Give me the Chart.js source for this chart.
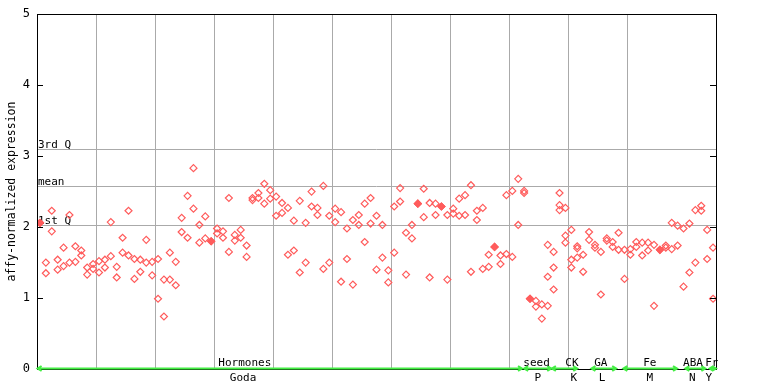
<!DOCTYPE html>
<html>
<head>
<meta charset="utf-8">
<script src="https://cdn.jsdelivr.net/npm/chart.js@4"></script>
<style>
  html, body { margin: 0; padding: 0; background: #fff; }
  #wrap { width: 768px; height: 384px; }
</style>
</head>
<body>
<div id="wrap"><canvas id="chart" width="768" height="384"></canvas></div>
<script>
// one entry per sample (x = sample index), replicate values
const rep1 = [
  2.06, 1.50, 2.23, 1.54, 1.71, 2.17, 1.73, 1.67, 1.43, 1.48,
  1.52, 1.54, 2.07, 1.44, 1.85, 2.23, 1.55, 1.54, 1.82, 1.51,
  1.55, 1.26, 1.64, 1.51, 2.13, 2.44, 2.83, 2.03, 2.15, 1.80,
  1.98, 1.94, 2.41, 1.89, 1.96, 1.74, 2.41, 2.48, 2.61, 2.52,
  2.43, 2.34, 2.27, 2.09, 2.37, 2.06, 2.50, 2.27, 2.58, 2.16,
  2.26, 2.21, 1.98, 2.10, 2.17, 2.33, 2.41, 2.16, 2.03, 1.39,
  2.29, 2.55, 1.92, 2.03, 2.33, 2.54, 2.34, 2.33, 2.29, 2.17,
  2.26, 2.40, 2.45, 2.59, 2.23, 2.27, 1.61, 1.72, 1.60, 2.45,
  2.51, 2.68, 2.51, 0.99, 0.96, 0.91, 1.75, 1.65, 2.48, 2.27,
  1.96, 1.73, 1.61, 1.93, 1.75, 1.65, 1.84, 1.79, 1.92, 1.68,
  1.69, 1.79, 1.78, 1.78, 1.75, 1.68, 1.74, 2.06, 2.02, 1.98,
  2.05, 2.24, 2.30, 1.96, 1.71
];
const rep2 = [
  2.06, 1.35, 1.94, 1.40, 1.45, 1.50, 1.51, 1.60, 1.33, 1.41,
  1.36, 1.43, 1.59, 1.29, 1.64, 1.60, 1.27, 1.37, 1.50, 1.32,
  0.99, 0.74, 1.26, 1.18, 1.93, 1.85, 2.26, 1.78, 1.84, 1.80,
  1.91, 1.85, 1.65, 1.81, 1.85, 1.58, 2.38, 2.41, 2.33, 2.40,
  2.16, 2.20, 1.61, 1.67, 1.36, 1.50, 2.29, 2.17, 1.41, 1.50,
  2.07, 1.23, 1.55, 1.19, 2.03, 1.79, 2.05, 1.40, 1.57, 1.22,
  1.64, 2.36, 1.33, 1.84, 2.33, 2.14, 1.29, 2.17, 2.29, 1.26,
  2.19, 2.16, 2.17, 1.37, 2.10, 1.41, 1.44, 1.72, 1.48, 1.62,
  1.58, 2.03, 2.48, 0.99, 0.88, 0.71, 1.30, 1.43, 2.31, 1.88,
  1.54, 1.70, 1.37, 1.82, 1.71, 1.05, 1.81, 1.72, 1.68, 1.27,
  1.61, 1.72, 1.60, 1.67, 0.89, 1.68, 1.71, 1.69, 1.74, 1.16,
  1.36, 1.50, 2.23, 1.55, 0.99
];
// a few samples carry a third replicate
const rep3Samples = [86, 87, 88, 89, 90, 91];
const rep3 = [0.89, 1.12, 2.24, 1.78, 1.43, 1.57];

const sampleCount = 115;
const yTicks = [0, 1, 2, 3, 4, 5];

const quartiles = [3.10, 2.58, 2.03];
const quartileLabels = ["3rd Q", "mean", "1st Q"];

const groupTop = ["Hormones", "seed", "CK", "GA", "Fe", "ABA", "Fr"];
const groupBottom = ["Goda", "P", "K", "L", "M", "N", "Y"];
const groupStart = [0.1, 82.5, 87.2, 93.9, 99.3, 109.8, 113.9];
const groupEnd = [82.15, 87.1, 91.5, 98.1, 108.4, 113.2, 115];
const groupTopAt = [35.2, 84.6, 90.6, 95.5, 103.8, 111.1, 114.3];
const groupBottomAt = [34.9, 84.8, 90.9, 95.7, 103.8, 111.0, 113.8];

const RED = "#ff5c5c";
const MONO = "'DejaVu Sans Mono', 'Liberation Mono', monospace";

function toPoints(values) {
  return values.map((v, i) => (v == null ? null : { x: i + 0.5, y: v })).filter(Boolean);
}

function pointFill(ctx) {
  if (!ctx.raw) return "rgba(0,0,0,0)";
  const i = ctx.raw.x - 0.5;
  return rep1[i] === rep2[i] ? RED : "rgba(0,0,0,0)";
}

const extras = {
  id: "extras",
  beforeDatasetsDraw(chart) {
    const { ctx, chartArea: a, scales } = chart;
    ctx.save();
    ctx.strokeStyle = "#aaaaaa";
    ctx.lineWidth = 1;
    ctx.font = "11px " + MONO;
    ctx.fillStyle = "#000";
    ctx.textAlign = "left";
    ctx.textBaseline = "alphabetic";
    quartiles.forEach((q, k) => {
      const y = Math.round(scales.y.getPixelForValue(q)) + 0.5;
      ctx.beginPath();
      ctx.moveTo(a.left, y);
      ctx.lineTo(a.right, y);
      ctx.stroke();
      ctx.fillText(quartileLabels[k], a.left + 1, y - 2);
    });
    ctx.restore();
  },
  afterDraw(chart) {
    const { ctx, chartArea: a, scales } = chart;
    const x = scales.x, y = scales.y;
    ctx.save();
    ctx.strokeStyle = "#000";
    ctx.lineWidth = 1;
    ctx.strokeRect(Math.round(a.left) + 0.5, Math.round(a.top) + 0.5,
      Math.round(a.right - a.left), Math.round(a.bottom - a.top));

    // inward tick marks on both sides
    yTicks.forEach((t) => {
      const py = Math.round(y.getPixelForValue(t)) + 0.5;
      ctx.beginPath();
      ctx.moveTo(a.left, py);
      ctx.lineTo(a.left + 6, py);
      ctx.moveTo(a.right - 6, py);
      ctx.lineTo(a.right, py);
      ctx.stroke();
    });

    // group ranges along the bottom
    const gy = Math.round(a.bottom) - 0.5;
    ctx.strokeStyle = "#44ee44";
    ctx.lineWidth = 2;
    groupStart.forEach((s, k) => {
      const x0 = x.getPixelForValue(s);
      const x1 = x.getPixelForValue(groupEnd[k]);
      ctx.beginPath();
      ctx.moveTo(x0, gy);
      ctx.lineTo(x1, gy);
      ctx.moveTo(x0 + 4, gy - 2.5);
      ctx.lineTo(x0, gy);
      ctx.lineTo(x0 + 4, gy + 2.5);
      ctx.moveTo(x1 - 4, gy - 2.5);
      ctx.lineTo(x1, gy);
      ctx.lineTo(x1 - 4, gy + 2.5);
      ctx.stroke();
    });

    ctx.fillStyle = "#000";
    ctx.font = "11px " + MONO;
    ctx.textAlign = "center";
    ctx.textBaseline = "alphabetic";
    groupTop.forEach((t, k) => {
      ctx.fillText(t, x.getPixelForValue(groupTopAt[k]), a.bottom - 3);
    });
    groupBottom.forEach((t, k) => {
      ctx.fillText(t, x.getPixelForValue(groupBottomAt[k]), a.bottom + 12);
    });
    ctx.restore();
  },
};

const diamond = {
  pointStyle: "rectRot",
  pointRadius: 3.5,
  pointBorderWidth: 1.2,
  pointBorderColor: RED,
  pointBackgroundColor: pointFill,
  pointHoverRadius: 3.5,
};

new Chart(document.getElementById("chart"), {
  type: "scatter",
  data: {
    datasets: [
      { label: "rep1", data: toPoints(rep1), ...diamond },
      { label: "rep2", data: toPoints(rep2), ...diamond },
      {
        label: "rep3",
        data: rep3Samples.map((s, k) => ({ x: s + 0.5, y: rep3[k] })),
        ...diamond,
        pointBackgroundColor: "rgba(0,0,0,0)",
      },
    ],
  },
  options: {
    responsive: false,
    animation: false,
    events: [],
    layout: { padding: { top: 13, right: 52, bottom: 0, left: 0 } },
    plugins: { legend: { display: false }, tooltip: { enabled: false } },
    scales: {
      x: {
        type: "linear",
        min: 0,
        max: sampleCount,
        ticks: { display: false, stepSize: 10 },
        grid: { color: "#aaaaaa", drawTicks: false },
        border: { display: false },
        afterFit(scale) { scale.height = 15; },
      },
      y: {
        min: 0,
        max: 5,
        ticks: {
          stepSize: 1,
          padding: 7,
          color: "#000",
          font: { family: MONO, size: 12 },
        },
        grid: { display: false, drawTicks: false },
        border: { display: false },
        title: {
          display: true,
          text: "affy-normalized expression",
          color: "#000",
          font: { family: MONO, size: 11.5 },
          padding: { top: 5, bottom: 0 },
        },
        afterFit(scale) { scale.width = 37; },
      },
    },
  },
  plugins: [extras],
});
</script>
</body>
</html>
